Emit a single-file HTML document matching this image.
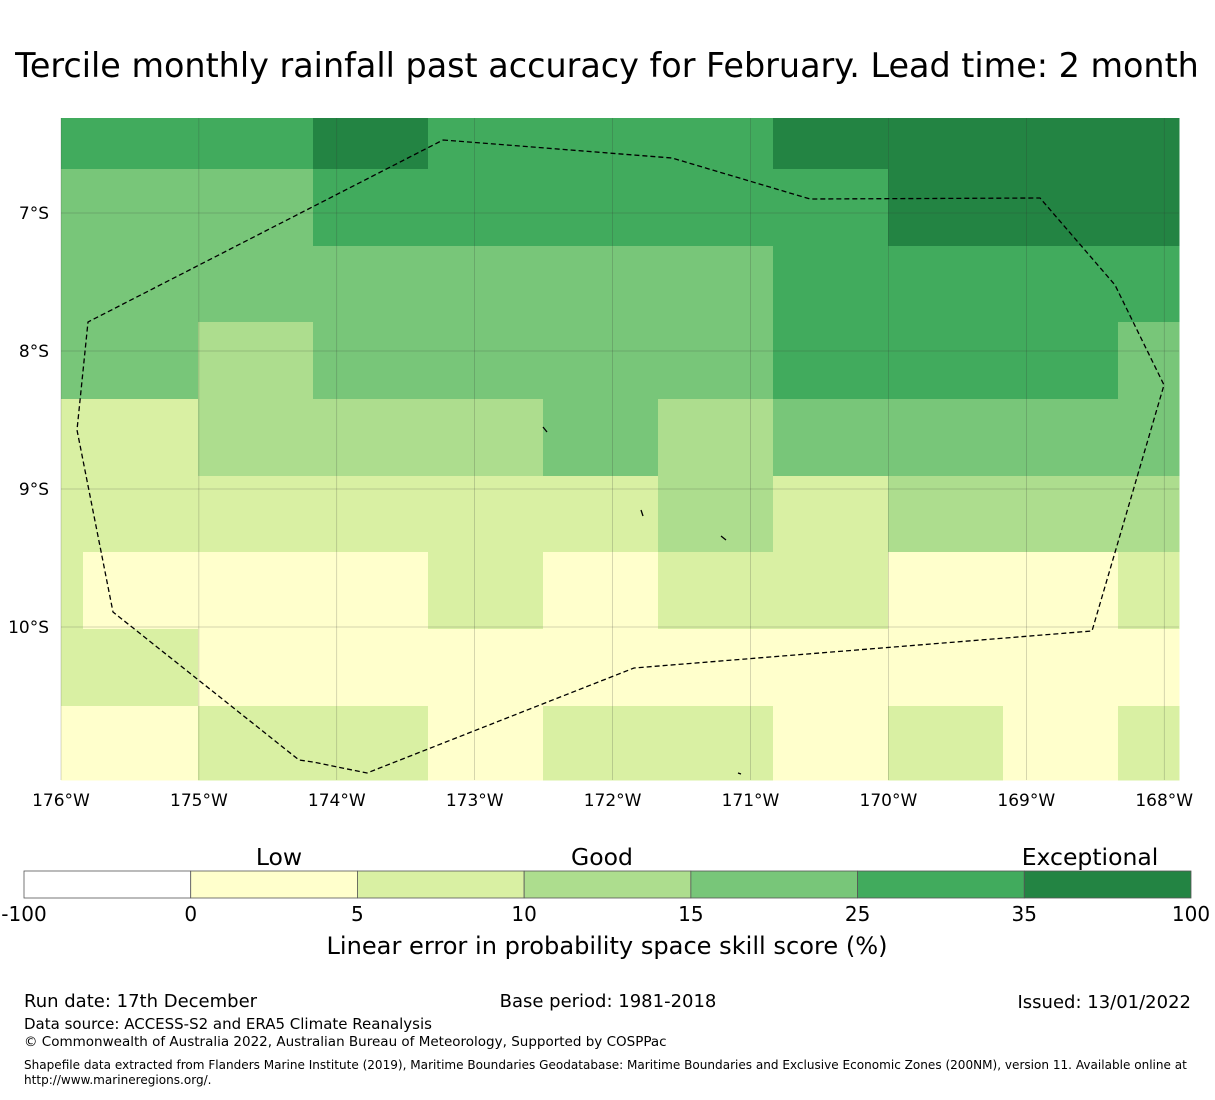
<!DOCTYPE html>
<html><head><meta charset="utf-8"><style>
body{margin:0;background:#fff;font-family:"Liberation Sans","DejaVu Sans",sans-serif;}
svg text{font-family:"DejaVu Sans","Liberation Sans",sans-serif;}
</style></head><body>
<svg id="chart" width="1215" height="1095" xmlns="http://www.w3.org/2000/svg">
<text x="607" y="77" font-size="33.4" text-anchor="middle">Tercile monthly rainfall past accuracy for February. Lead time: 2 month</text>
<g id="cells"></g>
<g id="grid"></g>
<polyline points="443,140 672,158 810,199 1040,198 1115,285 1164,385 1092,631 634,668 367,773 313,762 299,760 113,612 77,430 88,322 443,140" fill="none" stroke="#000" stroke-width="1.3" stroke-dasharray="5,3"/>
<g stroke="#000" stroke-width="1.3">
<line x1="543" y1="427" x2="547" y2="432"/><line x1="641" y1="510" x2="643" y2="516"/><line x1="721" y1="536" x2="726" y2="540"/><line x1="738" y1="773" x2="741" y2="774"/>
</g>
<g id="axes"></g>
<g id="cbar"></g>
<text x="279" y="865" font-size="23.5" text-anchor="middle">Low</text>
<text x="602" y="865" font-size="23.5" text-anchor="middle">Good</text>
<text x="1090" y="865" font-size="23.5" text-anchor="middle">Exceptional</text>
<text x="607" y="954" font-size="24.1" text-anchor="middle">Linear error in probability space skill score (%)</text>
<text x="24" y="1007" font-size="18">Run date: 17th December</text>
<text x="608" y="1007" font-size="18" text-anchor="middle">Base period: 1981-2018</text>
<text x="1191" y="1008" font-size="18" text-anchor="end">Issued: 13/01/2022</text>
<text x="24" y="1029" font-size="15">Data source: ACCESS-S2 and ERA5 Climate Reanalysis</text>
<text x="24" y="1046" font-size="13.5">© Commonwealth of Australia 2022, Australian Bureau of Meteorology, Supported by COSPPac</text>
<text x="24" y="1069" font-size="12.05">Shapefile data extracted from Flanders Marine Institute (2019), Maritime Boundaries Geodatabase: Maritime Boundaries and Exclusive Economic Zones (200NM), version 11. Available online at</text>
<text x="24" y="1084" font-size="12.05">http://www.marineregions.org/.</text>
</svg>
<script>
const colX=[61,83,198,313,428,543,658,773,888,1003,1118,1179];
const rowY=[118,169,246,322,399,476,552,629,706,780];
const levels=[
[5,5,5,6,5,5,5,6,6,6,6],
[4,4,4,5,5,5,5,5,6,6,6],
[4,4,4,4,4,4,4,5,5,5,5],
[4,4,3,4,4,4,4,5,5,5,4],
[2,2,3,3,3,4,3,4,4,4,4],
[2,2,2,2,2,2,3,2,3,3,3],
[2,1,1,1,2,1,2,2,1,1,2],
[2,2,1,1,1,1,1,1,1,1,1],
[1,1,2,2,1,2,2,1,2,1,2]];
const palette=["#ffffff","#ffffcc","#d9f0a3","#addd8e","#78c679","#41ab5d","#238443"];
const cbTicks=["-100","0","5","10","15","25","35","100"];
const lonLabels=["176°W","175°W","174°W","173°W","172°W","171°W","170°W","169°W","168°W"];
const latLabels=["7°S","8°S","9°S","10°S"];
const lonVals=[-176,-175,-174,-173,-172,-171,-170,-169,-168];
const latVals=[-7,-8,-9,-10];
const NS="http://www.w3.org/2000/svg";
const xLon=l=>61+(l+176)*137.9;
const yLat=l=>213+(-7-l)*138;
function mk(t,a,p){const e=document.createElementNS(NS,t);for(const k in a)e.setAttribute(k,a[k]);p.appendChild(e);return e;}
const cg=document.getElementById('cells');
levels.forEach((row,r)=>row.forEach((v,c)=>{
 const e=mk('rect',{x:colX[c],y:rowY[r],width:colX[c+1]-colX[c]+0.5,height:rowY[r+1]-rowY[r]+0.5,fill:palette[v]},cg);
 
 
}));
const gg=document.getElementById('grid'),ag=document.getElementById('axes');
lonVals.forEach((l,i)=>{
 const x=xLon(l);
 const ln=mk('line',{x1:x,x2:x,y1:118,y2:780,stroke:'#333','stroke-width':0.4,'stroke-opacity':0.5},gg);
 
 
 const t=mk('text',{x:x,y:806,'font-size':17,'text-anchor':'middle'},ag);t.textContent=lonLabels[i];
 
 
});
latVals.forEach((l,i)=>{
 const y=yLat(l);
 const ln=mk('line',{x1:61,x2:1179,y1:y,y2:y,stroke:'#333','stroke-width':0.4,'stroke-opacity':0.5},gg);
 
 
 const t=mk('text',{x:49,y:y+6,'font-size':17,'text-anchor':'end'},ag);t.textContent=latLabels[i];
 
 
});
const cb=document.getElementById('cbar');
const w=(1191-24)/7;
palette.forEach((p,i)=>{
 const r=mk('rect',{x:24+i*w,y:871,width:w,height:27,fill:p,stroke:'#555','stroke-width':0.8},cb);
 
 
});
cbTicks.forEach((t,i)=>{
 const e=mk('text',{x:24+i*w,y:921,'font-size':20,'text-anchor':'middle'},cb);e.textContent=t;
 
 
});
</script>
</body></html>
